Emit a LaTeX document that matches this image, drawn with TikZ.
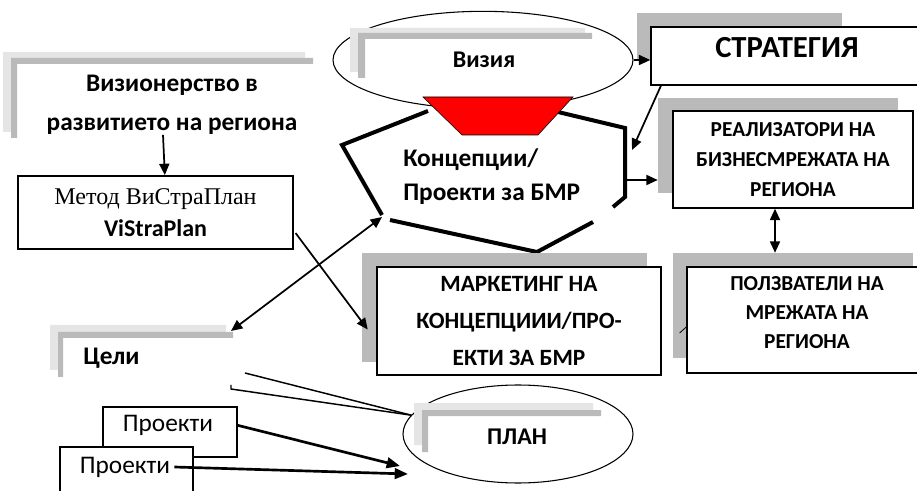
\documentclass[tikz,border=0pt]{standalone}
\usepackage{fontspec}
\setmainfont{Carlito}
\newfontfamily\tnr{Liberation Serif}
\usetikzlibrary{arrows.meta,shapes.geometric,positioning,calc}

\tikzset{
  box/.style={draw, line width=1.1pt, fill=white, inner sep=0pt},
  shd/.style={fill=black!27, inner sep=0pt},
  lite/.style={fill=black!10},
  dark/.style={fill=black!27},
  oval/.style={draw, ellipse, line width=0.8pt, fill=white, inner sep=0pt},
  arr/.style={-{Triangle[length=8.5pt,width=7.5pt]}, line width=1.3pt},
  darr/.style={{Triangle[length=8.5pt,width=7.5pt]}-{Triangle[length=8.5pt,width=7.5pt]}, line width=1.3pt},
  fat/.style={-{Triangle[length=10pt,width=8pt]}, line width=2pt},
  hex/.style={line width=3pt},
  lbl/.style={font=\bfseries, align=center, inner sep=0pt},
}

\begin{document}
\begin{tikzpicture}[x=0.75pt, y=-0.75pt]
    \useasboundingbox (0,0) rectangle (917,491);
    \clip (0,0) rectangle (917,491);

    \fill[lite] (3,132) |- (305,52) -- (305,58) -| (11,132) -- cycle;
    \fill[dark] (11,138) |- (313,58) -- (313,64) -| (17,138) -- cycle;
    \node[lbl, font=\bfseries\fontsize{19}{29}\selectfont] (vision) at (172,105) {Визионерство в\\развитието на региона};

    \node[box, minimum width=206pt, minimum height=55pt, align=center, font=\fontsize{18}{24}\selectfont] (metod) at (155.5,212.5) {{\tnr Метод ВиСтраПлан}\\{\bfseries ViStraPlan}};

    \node[oval, minimum width=225pt, minimum height=73pt] (visia) at (483,60) {};
    \fill[lite] (350,72) |- (585,28) -- (585,33) -| (358,72) -- cycle;
    \fill[dark] (358,78) |- (592,33) -- (592,39) -| (365,78) -- cycle;
    \node[lbl, font=\bfseries\fontsize{18}{22}\selectfont] (visiaT) at (484,60) {Визия};

    \draw[hex] (428,111) -- (342,145) -- (382,215);
    \draw[hex] (390,220) -- (537,252) -- (593,222);
    \draw[hex] (613,207) -- (625,197) -- (625,128) -- (558,112);
    \draw[fill=red, line width=0.4pt] (423,97) -- (573,97) -- (538,135) -- (462,135) -- cycle;
    \coordinate (hexL) at (382,217);
    \coordinate (hexR) at (625,180);
    \coordinate (hexS) at (632,150);
    \node[lbl, align=left, anchor=west, font=\bfseries\fontsize{19}{25}\selectfont] (konc) at (403,176.5) {Концепции/\\Проекти за БМР};

    \node[shd, minimum width=153.75pt, minimum height=35.25pt] (stratS) at (739.5,36.5) {};
    \node[box, minimum width=207pt, minimum height=43.5pt] (strat) at (789,56) {};
    \node[lbl, font=\bfseries\fontsize{23}{28}\selectfont] (stratT) at (787,48) {СТРАТЕГИЯ};

    \node[shd, minimum width=180pt, minimum height=71.25pt] (realS) at (778,145.5) {};
    \node[box, lbl, minimum width=180pt, minimum height=72.75pt, font=\bfseries\fontsize{16}{22.5}\selectfont] (real) at (793,159.5) {РЕАЛИЗАТОРИ НА\\БИЗНЕСМРЕЖАТА НА\\РЕГИОНА};

    \node[shd, minimum width=213.75pt, minimum height=81.75pt] (markS) at (504.5,307.5) {};
    \node[box, lbl, minimum width=213pt, minimum height=81pt, font=\bfseries\fontsize{17.5}{27.5}\selectfont] (mark) at (519,321) {МАРКЕТИНГ НА\\КОНЦЕПЦИИИ/ПРО-\\ЕКТИ ЗА БМР};

    \node[shd, minimum width=180pt, minimum height=78.75pt] (polS) at (793,305.5) {};
    \node[box, minimum width=180pt, minimum height=79.5pt] (pol) at (807,320) {};
    \node[lbl, font=\bfseries\fontsize{16}{22}\selectfont] (polT) at (807,312.5) {ПОЛЗВАТЕЛИ НА\\МРЕЖАТА НА\\РЕГИОНА};

    \fill[lite] (50,370) |- (226,325) -- (226,332) -| (58,370) -- cycle;
    \fill[dark] (58,377) |- (233,332) -- (233,338) -| (63,377) -- cycle;
    \node[lbl, anchor=west, font=\bfseries\fontsize{19}{22}\selectfont] (celi) at (83,358) {Цели};
    \coordinate (celiA) at (231,331);
    \coordinate (celiB) at (245,373);
    \coordinate (celiC) at (231,385);

    \node[oval, minimum width=172.5pt, minimum height=73.5pt] (plan) at (518,434) {};
    \fill[lite] (414,445) |- (593,403) -- (593,410) -| (422,445) -- cycle;
    \fill[dark] (422,452) |- (601,410) -- (601,416) -| (428,452) -- cycle;
    \node[lbl, font=\bfseries\fontsize{18}{22}\selectfont] (planT) at (517,437) {ПЛАН};
    \coordinate (planA) at (400,466);
    \coordinate (planB) at (408,474);

    \node[box, minimum width=100.5pt, minimum height=37.5pt] (pr1) at (170,432) {};
    \node[inner sep=0pt, font=\fontsize{19}{22}\selectfont] (pr1T) at (168,425) {Проекти};
    \node[box, minimum width=99.75pt, minimum height=39.75pt] (pr2) at (126.5,473.5) {};
    \node[inner sep=0pt, font=\fontsize{19}{22}\selectfont] (pr2T) at (125,467) {Проекти};

    \draw[arr] ([xshift=-6.75pt]vision.south) -- ([xshift=7pt]metod.north);
    \draw[arr] ([xshift=1.5pt,yshift=-15.4pt]metod.east) -- ([xshift=4.5pt,yshift=-16.5pt]markS.west);
    \draw[darr] (celiA) -- (hexL);
    \draw[arr] ([xshift=8pt]strat.south west) -- (hexS);
    \draw[arr] (visia.east) -- (visia.east -| strat.west);
    \draw[arr] (hexR) -- (hexR -| realS.west);
    \coordinate (rp) at ([xshift=-13.5pt]real.south);
    \draw[darr] (rp) -- (rp |- polS.north);
    \draw[line width=1.1pt] (celiB) -- (plan.170);
    \draw[line width=1.1pt] (celiC) -- ++(0,4) -- (plan.170);
    \draw[fat] ([yshift=5pt]pr1.east) -- (planA);
    \draw[fat] (pr2T.east) ++(3pt,0) -- (planB);
    \draw[line width=0.6pt] ([xshift=-5pt,yshift=-9.75pt]pol.west) -- ([yshift=-5.25pt]pol.west);
\end{tikzpicture}
\end{document}
